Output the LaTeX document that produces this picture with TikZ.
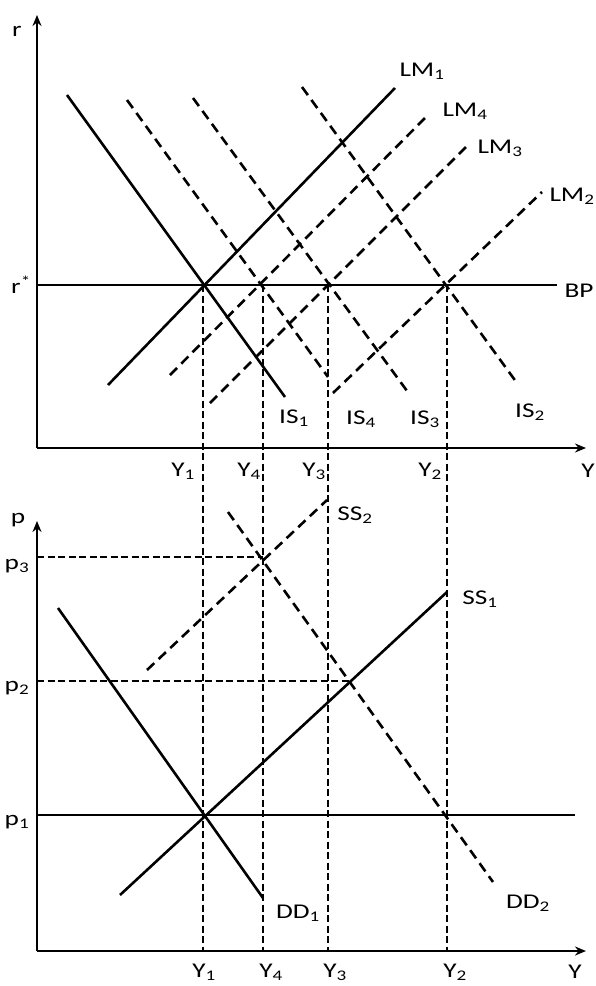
\documentclass[tikz,border=0pt]{standalone}
\usepackage{fontspec}
\setmainfont[FakeStretch=1.3]{Carlito}
\usetikzlibrary{arrows.meta}
\begin{document}
\begin{tikzpicture}[x=1pt,y=-1pt,
  axis/.style={line width=2.2pt,-{Stealth[length=11pt,width=9pt]}},
  curve/.style={line width=2.6pt},
  dcurve/.style={line width=2.6pt,dash pattern=on 10pt off 6pt},
  drop/.style={line width=1.8pt,dash pattern=on 7pt off 3.5pt},
  level/.style={line width=1.6pt},
  lbl/.style={font=\fontsize{21}{23}\selectfont,inner sep=0pt}]
\useasboundingbox (0,0) rectangle (596,986);
% ---------- upper panel ----------
\coordinate (O1) at (37,448);
\coordinate (rtop) at (37,15);
\coordinate (Y1end) at (586,448);
\draw[axis] (O1) -- (rtop);
\draw[axis] (O1) -- (Y1end);
\coordinate (BPa) at (37,285);
\coordinate (BPb) at (557,285);
\draw[level] (BPa) -- (BPb);
% IS curves
\coordinate (IS1a) at (67,95);   \coordinate (IS1b) at (285,397);
\coordinate (IS4a) at (127,100); \coordinate (IS4b) at (328,377);
\coordinate (IS3a) at (193,98);  \coordinate (IS3b) at (410,395);
\coordinate (IS2a) at (302,87);  \coordinate (IS2b) at (517,383);
\draw[curve] (IS1a) -- (IS1b);
\draw[dcurve] (IS4a) -- (IS4b);
\draw[dcurve] (IS3a) -- (IS3b);
\draw[dcurve] (IS2a) -- (IS2b);
% LM curves
\coordinate (LM1a) at (108,385); \coordinate (LM1b) at (395,88);
\coordinate (LM4a) at (170,375); \coordinate (LM4b) at (428,115);
\coordinate (LM3a) at (210,403); \coordinate (LM3b) at (467,146);
\coordinate (LM2a) at (333,393); \coordinate (LM2b) at (542,192);
\draw[curve] (LM1a) -- (LM1b);
\draw[dcurve] (LM4a) -- (LM4b);
\draw[dcurve] (LM3a) -- (LM3b);
\draw[dcurve] (LM2a) -- (LM2b);
% equilibrium points and drop lines
\coordinate (E1) at (203,285); \coordinate (E4) at (263,285);
\coordinate (E3) at (328,285); \coordinate (E2) at (447,285);
\coordinate (F1) at (203,950); \coordinate (F4) at (263,950);
\coordinate (F3) at (328,950); \coordinate (F2) at (447,950);
\draw[drop] (E1) -- (F1);
\draw[drop] (E4) -- (F4);
\draw[drop] (E3) -- (F3);
\draw[drop] (E2) -- (F2);
% labels upper
\node[lbl] (lr) at (17,31) {r};
\node[lbl] (lrs) at (21,285) {r\textsuperscript{*}};
\node[lbl] (lBP) at (579,291) {BP};
\node[lbl] (lLM1) at (422,71) {LM\textsubscript{1}};
\node[lbl] (lLM4) at (465,111) {LM\textsubscript{4}};
\node[lbl] (lLM3) at (500,148) {LM\textsubscript{3}};
\node[lbl] (lLM2) at (572,196) {LM\textsubscript{2}};
\node[lbl] (lIS1) at (294,418) {IS\textsubscript{1}};
\node[lbl] (lIS4) at (361,419) {IS\textsubscript{4}};
\node[lbl] (lIS3) at (425,419) {IS\textsubscript{3}};
\node[lbl] (lIS2) at (530,412) {IS\textsubscript{2}};
\node[lbl] (tY1) at (183,471) {Y\textsubscript{1}};
\node[lbl] (tY4) at (249,471) {Y\textsubscript{4}};
\node[lbl] (tY3) at (314,471) {Y\textsubscript{3}};
\node[lbl] (tY2) at (430,471) {Y\textsubscript{2}};
\node[lbl] (tY) at (588,471) {Y};
% ---------- lower panel ----------
\coordinate (O2) at (37,951);
\coordinate (ptop) at (37,521);
\coordinate (Y2end) at (586,951);
\draw[axis] (O2) -- (ptop);
\draw[axis] (O2) -- (Y2end);
\coordinate (P1a) at (37,815);  \coordinate (P1b) at (575,815);
\coordinate (P2a) at (37,681);  \coordinate (P2b) at (350,681);
\coordinate (P3a) at (37,557);  \coordinate (P3b) at (263,557);
\draw[level] (P1a) -- (P1b);
\draw[drop] (P2a) -- (P2b);
\draw[drop] (P3a) -- (P3b);
\coordinate (DD1a) at (58,608);  \coordinate (DD1b) at (263,898);
\coordinate (SS1a) at (120,895); \coordinate (SS1b) at (447,592);
\coordinate (SS2a) at (147,670); \coordinate (SS2b) at (327,500);
\coordinate (DD2a) at (228,512); \coordinate (DD2b) at (493,882);
\draw[curve] (DD1a) -- (DD1b);
\draw[curve] (SS1a) -- (SS1b);
\draw[dcurve] (SS2a) -- (SS2b);
\draw[dcurve] (DD2a) -- (DD2b);
% labels lower
\node[lbl] (lp) at (18,520) {p};
\node[lbl] (lp3) at (17,566) {p\textsubscript{3}};
\node[lbl] (lp2) at (17,688) {p\textsubscript{2}};
\node[lbl] (lp1) at (17,822) {p\textsubscript{1}};
\node[lbl] (lSS2) at (355,515) {SS\textsubscript{2}};
\node[lbl] (lSS1) at (480,599) {SS\textsubscript{1}};
\node[lbl] (lDD1) at (298,913) {DD\textsubscript{1}};
\node[lbl] (lDD2) at (528,903) {DD\textsubscript{2}};
\node[lbl] (bY1) at (204,972) {Y\textsubscript{1}};
\node[lbl] (bY4) at (271,972) {Y\textsubscript{4}};
\node[lbl] (bY3) at (335,972) {Y\textsubscript{3}};
\node[lbl] (bY2) at (455,972) {Y\textsubscript{2}};
\node[lbl] (bY) at (575,972) {Y};
\end{tikzpicture}
\end{document}
